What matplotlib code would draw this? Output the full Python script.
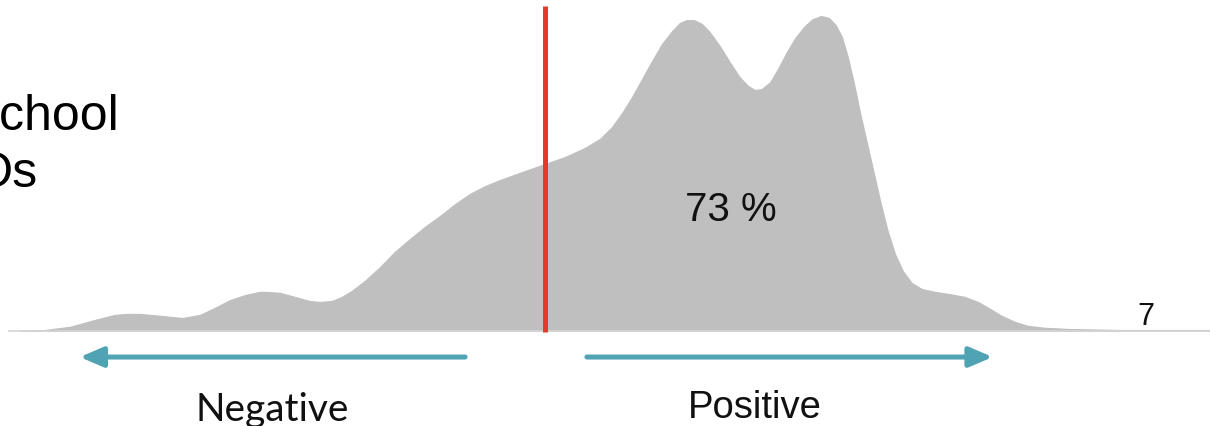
import matplotlib.pyplot as plt

# sentiment score (0 = neutral, red line) and density of responses
score = [-1.000, -0.952, -0.905, -0.857, -0.819, -0.796, -0.771, -0.733, -0.690,
         -0.657, -0.629, -0.600, -0.571, -0.543, -0.530, -0.505, -0.476, -0.448,
         -0.429, -0.406, -0.387, -0.368, -0.343, -0.314, -0.286, -0.257, -0.229,
         -0.200, -0.171, -0.143, -0.114, -0.086, -0.048, 0.000, 0.038, 0.076,
         0.105, 0.128, 0.147, 0.166, 0.185, 0.204, 0.223, 0.242, 0.257, 0.270,
         0.284, 0.299, 0.314, 0.333, 0.352, 0.371, 0.387, 0.400, 0.413, 0.429,
         0.444, 0.461, 0.478, 0.495, 0.510, 0.526, 0.541, 0.554, 0.566, 0.577,
         0.589, 0.600, 0.613, 0.627, 0.640, 0.653, 0.667, 0.682, 0.699, 0.718,
         0.743, 0.771, 0.800, 0.825, 0.848, 0.870, 0.895, 0.920, 0.952, 1.000,
         1.095, 1.267]
density = [0.000, 0.003, 0.013, 0.035, 0.051, 0.054, 0.054, 0.048, 0.041,
           0.051, 0.073, 0.098, 0.114, 0.124, 0.124, 0.121, 0.108, 0.095,
           0.092, 0.095, 0.108, 0.127, 0.159, 0.203, 0.251, 0.292, 0.330,
           0.365, 0.403, 0.435, 0.460, 0.479, 0.502, 0.530, 0.552, 0.581,
           0.610, 0.648, 0.692, 0.743, 0.800, 0.857, 0.911, 0.952, 0.978, 0.987,
           0.987, 0.975, 0.949, 0.905, 0.854, 0.806, 0.778, 0.765, 0.768, 0.790,
           0.832, 0.886, 0.933, 0.968, 0.990, 1.000, 0.994, 0.971, 0.933, 0.870,
           0.784, 0.695, 0.600, 0.498, 0.403, 0.317, 0.244, 0.190, 0.152, 0.133,
           0.124, 0.117, 0.108, 0.092, 0.070, 0.048, 0.029, 0.016, 0.010, 0.006,
           0.003, 0.003]

share_positive = "73 %"
sample_label = "7"
side_labels = ["Negative", "Positive"]
left_lines = ["school", "Ds"]

fig = plt.figure(figsize=(12.1, 4.27), dpi=100)
ax = fig.add_axes([0, 0, 1, 1])
ax.set_xlim(-1.038, 1.267)
ax.set_ylim(-0.302, 1.054)
ax.axis("off")

# density area
ax.fill_between(score, density, 0, color="#bfbfbf", lw=0.8, edgecolor="#bfbfbf")
ax.plot([score[0] - 0.02, score[-1]], [0, 0], color="#d6d6d6", lw=1.2)

# neutral line
ax.vlines(0, -0.003, 1.032, color="#e53a2b", lw=3.6)

# direction arrows
teal = "#4fa3b3"
arrow = dict(arrowstyle="-|>,head_length=1.4,head_width=0.6", color=teal, lw=3.6,
             shrinkA=0, shrinkB=0, mutation_scale=10)
ax.annotate("", xy=(-0.886, -0.083), xytext=(-0.152, -0.083), arrowprops=arrow)
ax.annotate("", xy=(0.853, -0.083), xytext=(0.080, -0.083), arrowprops=arrow)

ax.text(-0.520, -0.283, side_labels[0], ha="center", va="baseline",
        fontsize=28, family="Lato", color="#111111")
ax.text(0.400, -0.273, side_labels[1], ha="center", va="baseline",
        fontsize=27.5, family="Liberation Sans", color="#111111")

ax.text(0.354, 0.352, share_positive, ha="center", va="baseline",
        fontsize=29, family="Liberation Sans", color="#111111")
ax.text(1.145, 0.022, sample_label, ha="center", va="baseline",
        fontsize=22, family="Liberation Sans", color="#111111")

# labels cut off by the left edge, as in the source slide
fig.text(0.0985, 0.695, left_lines[0], ha="right", va="baseline",
         fontsize=36, family="Liberation Sans")
fig.text(0.0310, 0.562, left_lines[1], ha="right", va="baseline",
         fontsize=36, family="Liberation Sans")

fig.savefig("out.png", dpi=100)
